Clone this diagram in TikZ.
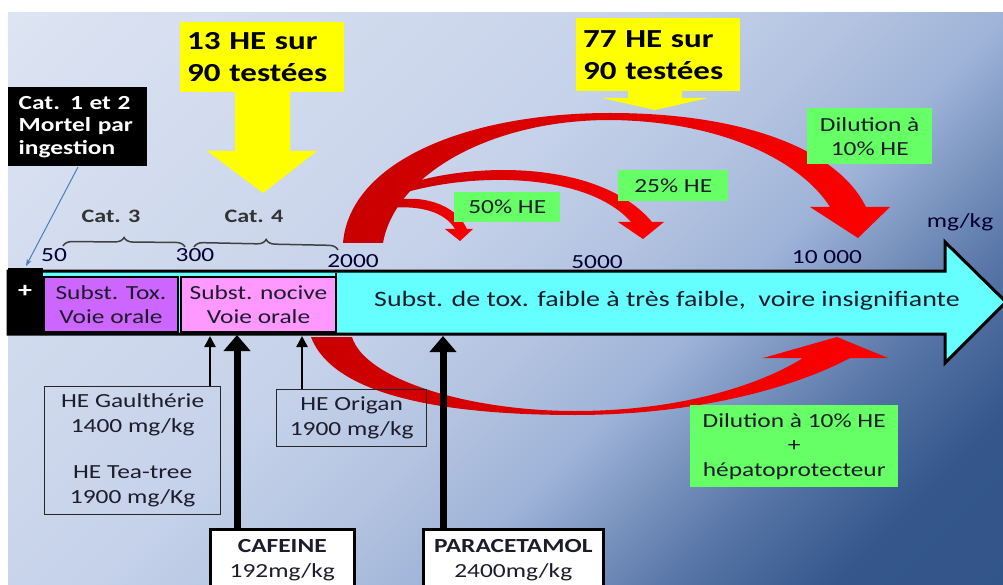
\documentclass[tikz,border=0pt]{standalone}
\usepackage{fontspec}
\setmainfont{Carlito}[FakeStretch=1.27]
\usetikzlibrary{arrows.meta,decorations.pathreplacing,shadings}
\definecolor{bg0}{HTML}{2F5288}
\definecolor{bg1}{HTML}{34568A}
\definecolor{bg2}{HTML}{5A78A9}
\definecolor{bg3}{HTML}{9EB3D8}
\definecolor{bg4}{HTML}{B3C3E0}
\definecolor{bg5}{HTML}{C6D2EA}
\definecolor{bg6}{HTML}{DFE6F3}
\pgfdeclareverticalshading{bgshade}{100bp}{color(0bp)=(bg0); color(22bp)=(bg1); color(30bp)=(bg2); color(40bp)=(bg3); color(47bp)=(bg4); color(56bp)=(bg5); color(88bp)=(bg6); color(100bp)=(bg6)}
\definecolor{cyanfill}{HTML}{66FFFF}
\definecolor{purplefill}{HTML}{CC66FF}
\definecolor{pinkfill}{HTML}{FF99FF}
\definecolor{greenfill}{HTML}{66FF66}
\definecolor{yellowfill}{HTML}{FFFF00}
\definecolor{darkred}{HTML}{C80000}
\definecolor{brightred}{HTML}{FF0000}
\definecolor{txt}{HTML}{1C1C2C}
\definecolor{bluearrow}{HTML}{4A7EBB}
\begin{document}
\begin{tikzpicture}[x=1pt,y=-1pt,
  lbl/.style={inner sep=0pt, font=\fontsize{20}{24}\selectfont, text=txt},
  boxnode/.style={inner sep=0pt, anchor=north west, align=center, text=txt, font=\fontsize{20}{24}\selectfont},
  greenbox/.style={boxnode, fill=greenfill},
  yellowbox/.style={boxnode, fill=yellowfill, align=left, font=\bfseries\fontsize{26}{32}\selectfont, text=black},
  outlinebox/.style={boxnode, draw=black!85, line width=1.3pt},
  drugbox/.style={boxnode, draw=black, fill=white, line width=2.5pt, font=\fontsize{20}{25}\selectfont},
  redshade/.style={left color=darkred, right color=brightred},
  thinup/.style={line width=2.5pt, -{Triangle[width=11pt,length=11pt]}},
  thickup/.style={line width=7pt, -{Triangle[width=26pt,length=16pt]}},
  bracedeco/.style={draw=black!75, line width=1.5pt, decorate, decoration={brace, amplitude=9pt}},
  scalelbl/.style={lbl, text=black!80!blue}
]
\useasboundingbox (0,0) rectangle (1003,585);
\fill[white] (0,0) rectangle (1003,585);
\shade[shading=bgshade, shading angle=45] (8,13) rectangle (1003,585);

% main arrow
\draw[fill=cyanfill, line width=3pt, line join=miter] (8,271) -- (945,271) -- (945,242) -- (1006,302) -- (945,363) -- (945,334) -- (8,334) -- cycle;
\fill[black] (8,268) rectangle (43,335);
\node[text=white, font=\bfseries\fontsize{22}{24}\selectfont, inner sep=0pt] (plus) at (25,291) {+};
\node[boxnode, fill=purplefill, draw=black, line width=2pt, minimum width=134pt, minimum height=55pt] (tox) at (43,276) {Subst. Tox.\\Voie orale};
\node[boxnode, fill=pinkfill, draw=black, line width=2pt, minimum width=155pt, minimum height=55pt] (nocive) at (180,276) {Subst. nocive\\Voie orale};
\draw[line width=2pt] (336,273) -- (336,332);
\node[lbl, font=\fontsize{22}{24}\selectfont] (faible) at (667,301) {Subst. de tox. faible à très faible,\ \ voire insignifiante};

% scale
\node[scalelbl] (s50) at (54,255) {50};
\node[scalelbl] (s300) at (195,255) {300};
\node[scalelbl] (s2000) at (353,261) {2000};
\node[scalelbl] (s5000) at (597,262) {5000};
\node[scalelbl] (s10000) at (827,257) {10 000};
\node[scalelbl] (unit) at (960,222) {mg/kg};
\draw[bracedeco] (63,246) -- (185,247);
\draw[bracedeco] (194,247) -- (338,250);
\node[lbl, font=\bfseries\fontsize{19}{22}\selectfont, text=black!80] (cat3) at (111,216) {Cat. 3};
\node[lbl, font=\bfseries\fontsize{19}{22}\selectfont, text=black!80] (cat4) at (254,216) {Cat. 4};

% Cat 1 et 2
\node[boxnode, fill=black, text=white, align=left, font=\bfseries\fontsize{20}{22.5}\selectfont, minimum width=139pt, minimum height=79pt, text width=124pt] (cat12) at (8,87) {\hspace*{3pt}Cat. 1 et 2\\\hspace*{3pt}Mortel par\\\hspace*{3pt}ingestion};
\coordinate (plustop) at (26,266);
\draw[bluearrow, line width=1pt, -{Stealth[length=7pt,width=5pt]}] (78,167) -- (plustop);

% red arrows (upper)
\shade[redshade] (390,201) .. controls (420,194) and (455,203) .. (467,229) -- (473,229) -- (460,241) -- (445,229) -- (455,229) .. controls (445,212) and (420,205) .. (390,208) -- cycle;
\shade[redshade] (395,188) .. controls (470,160) and (600,160) .. (652,222) -- (664,222) -- (643,239) -- (618,222) -- (631,222) .. controls (590,175) and (480,170) .. (400,194) -- cycle;
\shade[redshade] (343,243) .. controls (350,160) and (470,113) .. (610,113) .. controls (745,113) and (838,150) .. (866,207) -- (890,207) -- (858,238) -- (810,207) -- (830,207) .. controls (800,160) and (720,121) .. (610,120) .. controls (490,120) and (395,175) .. (383,243) -- cycle;
% red arrow (lower)
\shade[redshade] (311,337) .. controls (335,400) and (460,415) .. (575,415) .. controls (690,415) and (790,390) .. (850,358) -- (888,358) -- (837,337) -- (763,358) -- (803,358) .. controls (760,385) and (680,411) .. (575,411) .. controls (470,411) and (365,380) .. (352,337) -- cycle;

% yellow boxes and arrows
\node[yellowbox, minimum width=164pt, minimum height=70pt, text width=150pt] (y13) at (180,22) {13 HE sur\\90 testées};
\fill[yellowfill] (235,92) -- (290,92) -- (290,151) -- (317,151) -- (263,193) -- (207,151) -- (235,151) -- cycle;
\node[yellowbox, minimum width=164pt, minimum height=73pt, text width=150pt] (y77) at (576,18) {77 HE sur\\90 testées};
\fill[yellowfill] (628,91) -- (682,91) -- (682,98) -- (708,98) -- (655,110) -- (602,98) -- (628,98) -- cycle;

% green boxes
\node[greenbox, minimum width=125pt, minimum height=56pt] (g10) at (807,108) {Dilution à\\10\% HE};
\node[greenbox, minimum width=110pt, minimum height=31pt] (g25) at (618,170) {25\% HE};
\node[greenbox, minimum width=106pt, minimum height=30pt] (g50) at (454,192) {50\% HE};
\node[greenbox, minimum width=208pt, minimum height=82pt, font=\fontsize{20}{24.5}\selectfont] (ghep) at (690,405) {Dilution à 10\% HE\\+\\hépatoprotecteur};

% lower boxes
\node[outlinebox, minimum width=176pt, minimum height=128pt, font=\fontsize{20}{25}\selectfont] (gaul) at (44,386) {HE Gaulthérie\\1400 mg/kg\\[21pt]HE Tea-tree\\1900 mg/Kg};
\node[outlinebox, minimum width=150pt, minimum height=57pt, font=\fontsize{20}{25}\selectfont] (orig) at (276,389) {HE Origan\\1900 mg/kg};
\node[drugbox, minimum width=144pt, minimum height=62pt] (caf) at (209,528) {\textbf{CAFEINE}\\192mg/kg};
\node[drugbox, minimum width=180pt, minimum height=62pt] (para) at (422,528) {\textbf{PARACETAMOL}\\2400mg/kg};

% up arrows
\coordinate (gaulT) at (210,336);
\coordinate (origT) at (302,336);
\coordinate (cafT) at (237,335);
\coordinate (paraT) at (443,336);
\draw[thinup] (gaul.north -| gaulT) -- (gaulT);
\draw[thinup] (orig.north -| origT) -- (origT);
\draw[thickup] (caf.north -| cafT) -- (cafT);
\draw[thickup] (para.north -| paraT) -- (paraT);
\end{tikzpicture}
\end{document}
